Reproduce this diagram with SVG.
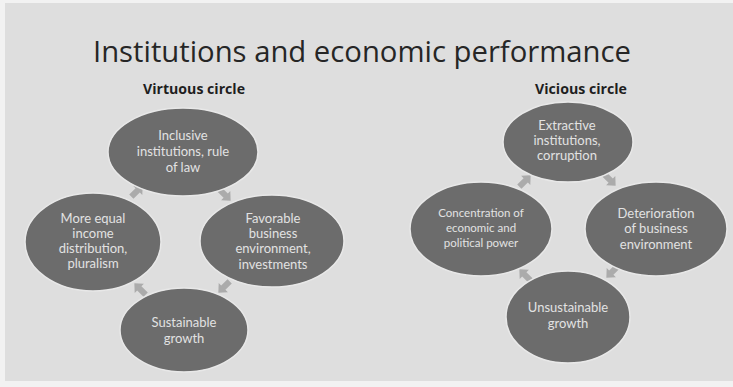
<svg xmlns="http://www.w3.org/2000/svg" width="733" height="387" viewBox="0 0 733 387">
<style>
.bg{fill:#dedede}
.node ellipse{fill:#6c6c6c;stroke:#e8e8e8;stroke-width:1.5}
.node text{font-family:Lato,"Open Sans","Liberation Sans",sans-serif;font-size:13px;fill:#e2e2e2;text-anchor:middle}
.node text.sm{font-size:11.5px}
.title{font-family:"Open Sans","Liberation Sans",sans-serif;font-size:30px;fill:#262626;font-weight:400}
.sub{font-family:"Liberation Sans Narrow","Open Sans","Liberation Sans",sans-serif;font-size:13.5px;font-weight:bold;fill:#1e1e1e;text-anchor:middle}
.arr{fill:#ababab}
</style>
<defs>
<path id="ar" d="M-8,-3 L1,-3 L1,-6.5 L8,0 L1,6.5 L1,3 L-8,3 Z"/>
</defs>
<rect width="733" height="387" fill="#f2f2f2"/>
<rect class="bg" x="5" y="3" width="728" height="378"/>
<text class="title" x="93" y="62" textLength="538" lengthAdjust="spacingAndGlyphs">Institutions and economic performance</text>
<text class="sub" x="194" y="94" textLength="102" lengthAdjust="spacingAndGlyphs">Virtuous circle</text>
<text class="sub" x="581" y="94" textLength="92" lengthAdjust="spacingAndGlyphs">Vicious circle</text>

<g id="connectors" class="arr">
<use href="#ar" transform="translate(137,191) rotate(-45)"/>
<use href="#ar" transform="translate(225,195) rotate(45)"/>
<use href="#ar" transform="translate(224,287) rotate(135)"/>
<use href="#ar" transform="translate(140,289) rotate(-135)"/>
<use href="#ar" transform="translate(525,181) rotate(-45)"/>
<use href="#ar" transform="translate(610,180) rotate(45)"/>
<use href="#ar" transform="translate(612,272) rotate(135)"/>
<use href="#ar" transform="translate(525,275) rotate(-135)"/>
</g>

<g id="v-top" class="node">
<ellipse cx="183" cy="152" rx="75" ry="44"/>
<text x="183" y="140">Inclusive</text>
<text x="183" y="156">institutions, rule</text>
<text x="183" y="172">of law</text>
</g>
<g id="v-right" class="node">
<ellipse cx="272" cy="241" rx="72" ry="46"/>
<text x="273" y="223">Favorable</text>
<text x="273" y="238">business</text>
<text x="273" y="253">environment,</text>
<text x="273" y="269">investments</text>
</g>
<g id="v-bottom" class="node">
<ellipse cx="184" cy="330" rx="64" ry="42"/>
<text x="184" y="327">Sustainable</text>
<text x="184" y="343">growth</text>
</g>
<g id="v-left" class="node">
<ellipse cx="93" cy="242" rx="68" ry="49"/>
<text x="93" y="223">More equal</text>
<text x="93" y="238">income</text>
<text x="93" y="253">distribution,</text>
<text x="93" y="268">pluralism</text>
</g>

<g id="c-top" class="node">
<ellipse cx="568" cy="142" rx="65" ry="40"/>
<text x="567" y="130">Extractive</text>
<text x="567" y="145">institutions,</text>
<text x="567" y="160">corruption</text>
</g>
<g id="c-right" class="node">
<ellipse cx="656" cy="229" rx="71" ry="47"/>
<text x="656" y="218">Deterioration</text>
<text x="656" y="233">of business</text>
<text x="656" y="249">environment</text>
</g>
<g id="c-bottom" class="node">
<ellipse cx="568" cy="317" rx="62" ry="46"/>
<text x="568" y="312">Unsustainable</text>
<text x="568" y="328">growth</text>
</g>
<g id="c-left" class="node">
<ellipse cx="481" cy="229" rx="71" ry="47"/>
<text class="sm" x="481" y="217">Concentration of</text>
<text class="sm" x="481" y="232">economic and</text>
<text class="sm" x="481" y="247">political power</text>
</g>
</svg>
